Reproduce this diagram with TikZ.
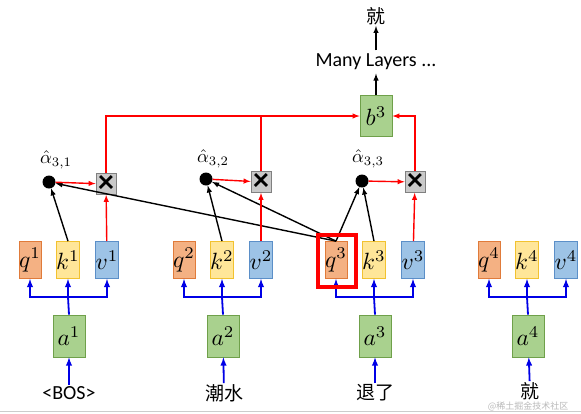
\documentclass[tikz,border=0pt]{standalone}
\usepackage{amsmath}
\usepackage{amssymb}
\usepackage{fontspec}
\setmainfont{Carlito}
\newfontfamily\cjk{Noto Sans CJK SC}
\usepackage{tikz}

\definecolor{qfill}{HTML}{F4B183}
\definecolor{qline}{HTML}{E07B3A}
\definecolor{kfill}{HTML}{FFE699}
\definecolor{kline}{HTML}{F2C230}
\definecolor{vfill}{HTML}{9DC3E6}
\definecolor{vline}{HTML}{5B8FC8}
\definecolor{afill}{HTML}{A9D18E}
\definecolor{aline}{HTML}{6FA04A}
\definecolor{mfill}{HTML}{C9C9C9}
\definecolor{busblue}{HTML}{0000E6}

\newcommand{\veclab}[1]{\scalebox{2.35}{$#1$}}
\newcommand{\scorelab}[1]{\scalebox{1.85}{$#1$}}

\begin{document}
\begin{tikzpicture}[x=1pt, y=-1pt,
    vec/.style={draw, line width=0.8pt, minimum width=20pt, minimum height=37pt, inner sep=0pt},
    qbox/.style={vec, fill=qfill, draw=qline},
    kbox/.style={vec, fill=kfill, draw=kline},
    vbox/.style={vec, fill=vfill, draw=vline},
    abox/.style={vec, fill=afill, draw=aline, minimum width=32pt, minimum height=42pt},
    mult/.style={draw=gray, fill=mfill, line width=0.8pt, minimum width=20pt, minimum height=21pt, inner sep=0pt, font=\fontsize{32}{32}\bfseries},
    dot/.style={circle, fill=black, minimum size=13pt, inner sep=0pt},
    bus/.style={busblue, line width=1.8pt},
    rline/.style={red, line width=1.4pt},
    kline/.style={black, line width=1.4pt},
    word/.style={inner sep=1pt, font=\cjk\fontsize{19}{19}\selectfont}]
    \useasboundingbox (0,0) rectangle (581,413);
    % token columns
    \foreach \i/\x in {1/68,2/222,3/374,4/527}{
        \node[qbox] (q\i) at (\x-38,260) {\veclab{q^{\i}}};
        \node[kbox] (k\i) at (\x,260) {\veclab{k^{\i}}};
        \node[vbox] (v\i) at (\x+39,260) {\veclab{v^{\i}}};
        \node[abox] (a\i) at (\x+1,336) {\veclab{a^{\i}}};
        \coordinate (j\i) at (\x,297);
        \draw[bus] (a\i.north) -- (j\i);
        \draw[bus,-latex] (j\i) -| (q\i);
        \draw[bus,-latex] (j\i) -- (k\i);
        \draw[bus,-latex] (j\i) -| (v\i);
    }
    \node[word, font=\fontsize{20}{20}\selectfont] (w1) at (69,393) {<BOS>};
    \node[word] (w2) at (224,393) {潮水};
    \node[word] (w3) at (375,393) {退了};
    \node[word] (w4) at (530,391) {就};
    \foreach \i in {1,...,4}
        \draw[bus,-latex] (w\i) -- (a\i);
    % attention scores
    \node[dot] (d1) at (49,182) {};
    \node[dot] (d2) at (206,179) {};
    \node[dot] (d3) at (362,181) {};
    \node (l1) at (56,160) {\scorelab{\hat{\alpha}_{3,1}}};
    \node (l2) at (213,159) {\scorelab{\hat{\alpha}_{3,2}}};
    \node (l3) at (368,159) {\scorelab{\hat{\alpha}_{3,3}}};
    \node[mult] (x1) at (106,184) {×};
    \node[mult] (x2) at (261,182) {×};
    \node[mult] (x3) at (415,182) {×};
    \draw[kline,-latex] (k1.north) -- (d1);
    \draw[kline,-latex] (k2.north) -- (d2);
    \draw[kline,-latex] (k3.north) -- (d3);
    \draw[kline,-latex] (q3.north) -- (d1);
    \draw[kline,-latex] (q3.north) -- (d2);
    \draw[kline,-latex] (q3.north) -- (d3);
    \node[draw=red, line width=4pt, minimum width=38pt, minimum height=52pt] (hl) at (337,261) {};
    % weighted sum
    \foreach \i in {1,2,3}{
        \draw[rline,-latex] (d\i) -- (x\i);
        \draw[rline,-latex] (v\i) -- (x\i);
    }
    \node[abox, minimum height=41pt] (b3) at (376,116) {\veclab{b^{3}}};
    \draw[rline,-latex] (x1) |- (b3);
    \draw[rline] (x2) -- (x2 |- b3);
    \draw[rline,-latex] (x3) |- (b3);
    % output
    \node[font=\fontsize{20}{20}\selectfont] (ml) at (376,62) {Many Layers ...};
    \node[word] (out) at (376,16) {就};
    \draw[kline,-latex] (b3) -- (ml);
    \draw[kline,-latex] (ml) -- (out);
    \node[anchor=east, text=gray!55, font=\cjk\fontsize{9}{9}\selectfont] (wm) at (572,406) {@稀土掘金技术社区};
    \draw[gray!40, line width=1pt] (0,411.5) -- (581,411.5);
\end{tikzpicture}
\end{document}
